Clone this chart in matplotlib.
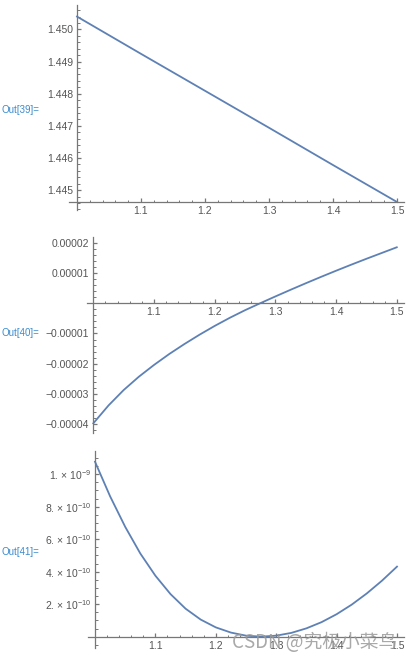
import matplotlib
matplotlib.use("Agg")
import matplotlib.pyplot as plt
from matplotlib.ticker import FixedLocator, MultipleLocator

plt.rcParams['font.family'] = ['Liberation Sans', 'DejaVu Sans']
plt.rcParams['mathtext.default'] = 'regular'

# values
x1 = [1.0, 1.1, 1.2, 1.3, 1.4, 1.5]
y1 = [1.45040, 1.44924, 1.44809, 1.44694, 1.44578, 1.44463]

x2 = [1.0, 1.025, 1.05, 1.075, 1.1, 1.125, 1.15, 1.175, 1.2, 1.225, 1.25,
      1.275, 1.3, 1.325, 1.35, 1.375, 1.4, 1.425, 1.45, 1.475, 1.5]
y2 = [-3.97, -3.38, -2.87, -2.43, -2.04, -1.68, -1.35, -1.04, -0.75, -0.48, -0.23,
      0.00, 0.225, 0.445, 0.66, 0.87, 1.075, 1.275, 1.47, 1.66, 1.85]  # x 1e-5

x3 = x2
y3 = [10.77, 8.64, 6.76, 5.12, 3.75, 2.62, 1.72, 1.05, 0.57, 0.25, 0.06,
      0.00, 0.06, 0.23, 0.51, 0.89, 1.38, 1.97, 2.66, 3.44, 4.31]  # x 1e-10

xticks = [1.1, 1.2, 1.3, 1.4, 1.5]
xtick_labels = ["1.1", "1.2", "1.3", "1.4", "1.5"]
yticks1 = [1.445, 1.446, 1.447, 1.448, 1.449, 1.450]
ylabels1 = ["1.445", "1.446", "1.447", "1.448", "1.449", "1.450"]
yticks2 = [-4e-5, -3e-5, -2e-5, -1e-5, 1e-5, 2e-5]
ylabels2 = ["\u22120.00004", "\u22120.00003", "\u22120.00002", "\u22120.00001",
            "0.00001", "0.00002"]
yticks3 = [2e-10, 4e-10, 6e-10, 8e-10, 1e-9]
ylabels3 = ["2. \u00d7 10$^{-10}$", "4. \u00d7 10$^{-10}$", "6. \u00d7 10$^{-10}$",
            "8. \u00d7 10$^{-10}$", "1. \u00d7 10$^{-9}$"]
out_labels = ["Out[39]=", "Out[40]=", "Out[41]="]

W, H = 418, 660
line_col = '#5E81B5'
axis_col = '#777777'
text_col = '#555555'
out_col = '#3a8ccf'

fig = plt.figure(figsize=(W / 100, H / 100), dpi=100)


def make_ax(l, t, r, b):
    return fig.add_axes([l / W, 1 - b / H, (r - l) / W, (b - t) / H])


def style(ax, xlim, ylim, y0, yt, yl, yminor):
    ax.set_xlim(*xlim)
    ax.set_ylim(*ylim)
    for s in ['top', 'right']:
        ax.spines[s].set_visible(False)
    ax.spines['left'].set_position(('data', 1.0))
    ax.spines['bottom'].set_position(('data', y0))
    for s in ['left', 'bottom']:
        ax.spines[s].set_color(axis_col)
        ax.spines[s].set_linewidth(0.9)
    ax.xaxis.set_major_locator(FixedLocator(xticks))
    ax.set_xticklabels(xtick_labels)
    ax.xaxis.set_minor_locator(MultipleLocator(0.02))
    ax.yaxis.set_major_locator(FixedLocator(yt))
    ax.set_yticklabels(yl)
    ax.yaxis.set_minor_locator(MultipleLocator(yminor))
    ax.tick_params(which='major', direction='in', length=3.2, width=0.9,
                   color=axis_col, labelsize=7.5, labelcolor=text_col, pad=3)
    ax.tick_params(which='minor', direction='in', length=1.8, width=0.7,
                   color=axis_col)
    ax.patch.set_alpha(0)


ax1 = make_ax(69, 5, 404, 210)
ax1.plot(x1, y1, color=line_col, lw=1.3)
style(ax1, (0.9875, 1.511), (1.44438, 1.45076), 1.44462, yticks1, ylabels1, 0.0002)

ax2 = make_ax(87, 237, 404, 433)
ax2.plot(x2, [v * 1e-5 for v in y2], color=line_col, lw=1.3)
style(ax2, (0.9896, 1.5119), (-4.29e-5, 2.19e-5), 0.0, yticks2, ylabels2, 0.2e-5)

ax3 = make_ax(88, 451, 404, 648)
ax3.plot(x3, [v * 1e-10 for v in y3], color=line_col, lw=1.3)
style(ax3, (0.9884, 1.5116), (-0.7e-10, 11.43e-10), 0.0, yticks3, ylabels3, 0.5e-10)

for lab, ypx in zip(out_labels, [110, 333, 552]):
    fig.text(2 / W, 1 - ypx / H, lab, color=out_col, fontsize=7, va='center', ha='left')

# watermark
fig.text(232 / W, 1 - 642 / H, "CSDN @究极小菜鸟", color='#9a9a9a', alpha=0.85,
         fontsize=13.5, va='center', ha='left',
         family=['Noto Sans CJK SC', 'DejaVu Sans'])

fig.savefig("out.png", dpi=100)
